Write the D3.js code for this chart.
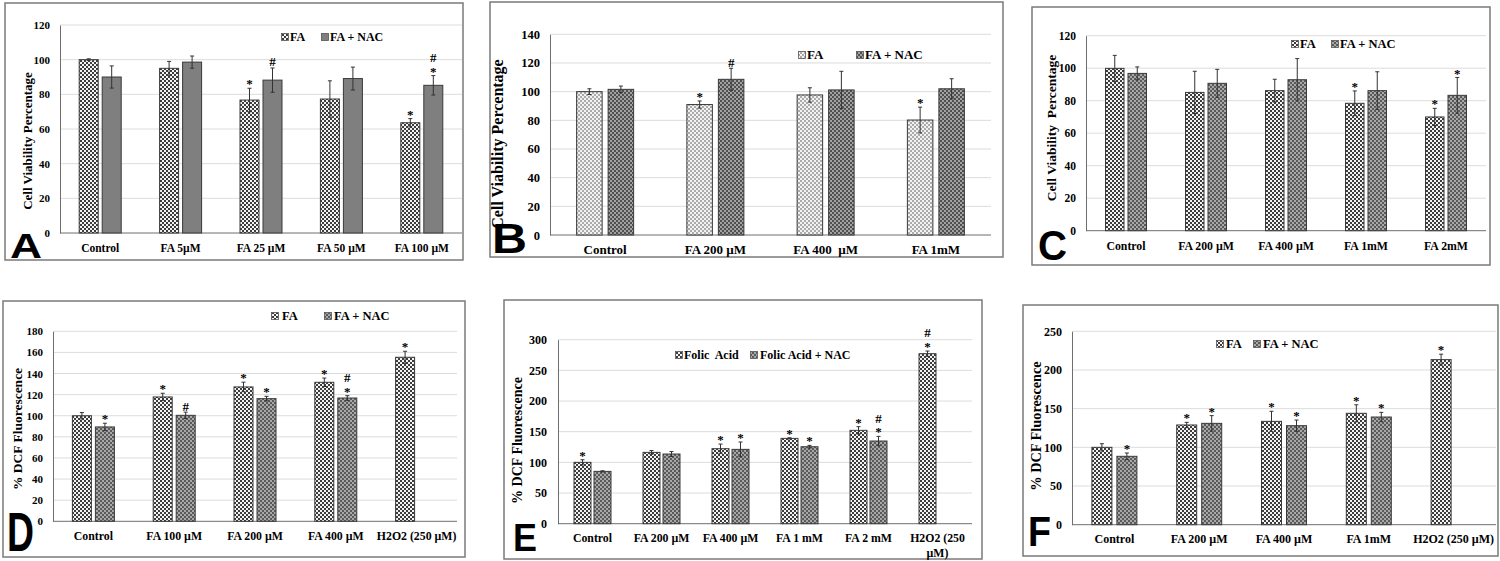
<!DOCTYPE html>
<html><head><meta charset="utf-8">
<script src="https://cdn.jsdelivr.net/npm/d3@7"></script>
<style>
body{margin:0;background:#fff}
svg text{font-family:"Liberation Serif","Times New Roman",serif;font-weight:bold;white-space:pre;fill:#000}
</style>
</head><body>
<svg id="c" width="1500" height="561"></svg>
<script>
// ---------- DATA ----------
// Panel A
const catsA = ["Control", "FA 5µM", "FA 25 µM", "FA 50 µM", "FA 100 µM"];
const faA = [100, 95, 76.7, 77.3, 63.6];
const faErrA = [0.5, 4, 6.8, 10.5, 2.4];
const nacA = [90, 98.6, 88.2, 89.1, 85.2];
const nacErrA = [6.4, 3.5, 7, 6.6, 5.6];
const faSigA = ["", "", "*", "", "*"];
const nacSigA = ["", "", "#", "", "*#"];
const ticksA = [0, 20, 40, 60, 80, 100, 120];
const legendA = ["FA", "FA + NAC"];

// Panel B
const catsB = ["Control", "FA 200 µM", "FA 400  µM", "FA 1mM"];
const faB = [100, 91, 97.7, 80.2];
const faErrB = [2, 2.5, 5, 9];
const nacB = [101.6, 108.6, 101.2, 102];
const nacErrB = [2.3, 7.7, 13, 7];
const faSigB = ["", "*", "", "*"];
const nacSigB = ["", "#", "", ""];
const ticksB = [0, 20, 40, 60, 80, 100, 120, 140];
const legendB = ["FA", "FA + NAC"];

// Panel C
const catsC = ["Control", "FA 200 µM", "FA 400 µM", "FA 1mM", "FA 2mM"];
const faC = [99.9, 85.1, 86.2, 78.4, 70];
const faErrC = [8, 13, 7, 7.6, 5.3];
const nacC = [96.8, 90.7, 92.9, 86.2, 83.3];
const nacErrC = [4, 8.6, 13, 11.6, 11];
const faSigC = ["", "", "", "*", "*"];
const nacSigC = ["", "", "", "", "*"];
const ticksC = [0, 20, 40, 60, 80, 100, 120];
const legendC = ["FA", "FA + NAC"];

// Panel D
const catsD = ["Control", "FA 100 µM", "FA 200 µM", "FA 400 µM", "H2O2 (250 µM)"];
const faD = [100, 117.8, 127.3, 131.7, 155.4];
const faErrD = [3, 3.5, 4.5, 4, 5.7];
const nacD = [89.4, 100.4, 116.2, 116.8, null];
const nacErrD = [3.5, 3, 2.2, 2.2, null];
const faSigD = ["", "*", "*", "*", "*"];
const nacSigD = ["*", "#", "*", "*#", ""];
const ticksD = [0, 20, 40, 60, 80, 100, 120, 140, 160, 180];
const legendD = ["FA", "FA + NAC"];

// Panel E
const catsE = ["Control", "FA 200 µM", "FA 400 µM", "FA 1 mM", "FA 2 mM", "H2O2 (250\nµM)"];
const faE = [100, 116.3, 122.3, 139.1, 152.2, 277.2];
const faErrE = [4.3, 3, 7.5, 1, 6, 4.3];
const nacE = [85.3, 113.6, 121.2, 125.5, 134.8, null];
const nacErrE = [1, 4, 12, 2.2, 7.6, null];
const faSigE = ["*", "", "*", "*", "*", "*#"];
const nacSigE = ["", "", "*", "*", "*#", ""];
const ticksE = [0, 50, 100, 150, 200, 250, 300];
const legendE = ["Folic  Acid", "Folic Acid + NAC"];

// Panel F
const catsF = ["Control", "FA 200 µM", "FA 400 µM", "FA 1mM", "H2O2 (250 µM)"];
const faF = [100, 128.9, 133.6, 144, 213.4];
const faErrF = [4.7, 3.4, 13, 11, 7];
const nacF = [88.4, 131, 128, 139.2, null];
const nacErrF = [4.3, 10, 7.3, 6, null];
const faSigF = ["", "*", "*", "*", "*"];
const nacSigF = ["*", "*", "*", "*", ""];
const ticksF = [0, 50, 100, 150, 200, 250];
const legendF = ["FA", "FA + NAC"];

const yTitleViab = "Cell Viability Percentage";
const yTitleViabC = "Cell Viability  Percentage";
const yTitleDCF = "% DCF Fluorescence";
const letters = ["A", "B", "C", "D", "E", "F"];

// ---------- DRAWING ----------
const svg = d3.select("#c");
const defs = svg.append("defs");
function checker(id, c1, c2, s) {
  const p = defs.append("pattern").attr("id", id).attr("patternUnits", "userSpaceOnUse")
    .attr("width", 2 * s).attr("height", 2 * s);
  p.append("rect").attr("width", 2 * s).attr("height", 2 * s).attr("fill", c1);
  p.append("rect").attr("width", s).attr("height", s).attr("fill", c2);
  p.append("rect").attr("x", s).attr("y", s).attr("width", s).attr("height", s).attr("fill", c2);
}
checker("pFA", "#f4f4f4", "#3c3c3c", 2);
checker("pFAlight", "#f2f2f2", "#ababab", 2);
checker("pNACdark", "#a2a2a2", "#505050", 2);
checker("pNAC", "#a8a8a8", "#5a5a5a", 2);

const SERIF = '"Liberation Serif","Times New Roman",serif';

function panel(p) {
  const g = svg.append("g");
  g.append("rect").attr("x", p.box[0]).attr("y", p.box[1])
    .attr("width", p.box[2] - p.box[0]).attr("height", p.box[3] - p.box[1])
    .attr("fill", "none").attr("stroke", "#7a7a7a").attr("stroke-width", 1.5);

  const y = d3.scaleLinear().domain([0, d3.max(p.ticks)]).range([p.zeroY, p.topY]);
  const x = d3.scaleBand().domain(p.cats).range([p.left, p.right]);

  // gridlines
  g.selectAll(".grid").data(p.ticks.filter(t => t > 0)).join("line")
    .attr("x1", p.left).attr("x2", p.right)
    .attr("y1", d => y(d)).attr("y2", d => y(d))
    .attr("stroke", "#dcdcdc").attr("stroke-width", 1);

  // y axis
  const ay = g.append("g").attr("transform", `translate(${p.left},0)`)
    .call(d3.axisLeft(y).tickValues(p.ticks).tickSize(0).tickPadding(p.tickPad).tickFormat(d3.format("d")));
  ay.attr("font-family", SERIF).attr("font-size", p.tickFs).attr("font-weight", "bold");
  ay.select(".domain").attr("stroke", "#6e6e6e");
  ay.selectAll("text").attr("fill", "#000");

  // x axis baseline
  g.append("line").attr("x1", p.left).attr("x2", p.right)
    .attr("y1", y(0)).attr("y2", y(0)).attr("stroke", "#6e6e6e").attr("stroke-width", 1);

  // category labels
  p.cats.forEach(c => {
    const t = g.append("text").attr("text-anchor", "middle").attr("font-size", p.catFs)
      .attr("x", x(c) + x.bandwidth() / 2).attr("y", p.catY);
    c.split("\n").forEach((line, i) => {
      t.append("tspan").attr("x", x(c) + x.bandwidth() / 2).attr("dy", i === 0 ? 0 : p.catFs * 1.25).text(line);
    });
  });

  const series = [
    { vals: p.fa, errs: p.faErr, sig: p.faSig, fill: p.fillFA, side: -1 },
    { vals: p.nac, errs: p.nacErr, sig: p.nacSig, fill: p.fillNAC, side: 1 }
  ];
  series.forEach(s => {
    p.cats.forEach((c, i) => {
      const v = s.vals[i];
      if (v == null) return;
      const cx = x(c) + x.bandwidth() / 2 + s.side * (p.gap / 2 + p.barW / 2);
      g.append("rect").attr("x", cx - p.barW / 2).attr("y", y(v))
        .attr("width", p.barW).attr("height", y(0) - y(v))
        .attr("fill", s.fill).attr("stroke", "#3a3a3a").attr("stroke-width", 1);
      const e = s.errs[i];
      const lo = y(v - e), hi = y(v + e);
      g.append("line").attr("x1", cx).attr("x2", cx).attr("y1", lo).attr("y2", hi)
        .attr("stroke", "#333").attr("stroke-width", 1);
      [lo, hi].forEach(yy => g.append("line").attr("x1", cx - 2).attr("x2", cx + 2)
        .attr("y1", yy).attr("y2", yy).attr("stroke", "#333").attr("stroke-width", 1));
      const sig = s.sig[i] || "";
      sig.split("").forEach((ch, k) => {
        const center = hi - 6 - k * 12;
        const fs = 13;
        const base = center + (ch === "*" ? 0.47 : 0.34) * fs;
        g.append("text").attr("text-anchor", "middle").attr("font-size", fs)
          .attr("x", cx).attr("y", base).text(ch);
      });
    });
  });

  // legend
  const L = p.legend;
  [[L.m1, L.t1, p.fillFA, p.legendText[0]], [L.m2, L.t2, p.fillNAC, p.legendText[1]]].forEach(([m, t, f, txt]) => {
    g.append("rect").attr("x", m - 3.5).attr("y", L.y - 3.5).attr("width", 7).attr("height", 7)
      .attr("fill", f).attr("stroke", "#555").attr("stroke-width", 0.8);
    g.append("text").attr("x", t).attr("y", L.y + 0.34 * L.fs).attr("font-size", L.fs).text(txt);
  });

  // y title
  g.append("text").attr("text-anchor", "middle").attr("font-size", p.titleFs)
    .attr("transform", `translate(${p.titleX},${p.titleY}) rotate(-90)`)
    .attr("dy", 0.35 * p.titleFs).text(p.title);

  // panel letter
  g.append("text").attr("x", p.letter.x).attr("y", p.letter.y)
    .attr("font-size", p.letter.fs).attr("textLength", p.letter.w).attr("lengthAdjust", "spacingAndGlyphs")
    .style("font-family", '"Liberation Sans",Arial,sans-serif').style("font-weight", "bold")
    .text(p.letter.t);
}

panel({ cats: catsA, fa: faA, faErr: faErrA, nac: nacA, nacErr: nacErrA, faSig: faSigA, nacSig: nacSigA,
  ticks: ticksA, legendText: legendA, title: yTitleViab, fillFA: "url(#pFA)", fillNAC: "#7f7f7f",
  box: [5, 3, 463, 260], left: 60, right: 462, zeroY: 233, topY: 25, barW: 19, gap: 4,
  tickFs: 11, tickPad: 10, catFs: 11.5, catY: 252, titleFs: 13, titleX: 27, titleY: 141,
  legend: { y: 37, m1: 285, t1: 290, m2: 325, t2: 330, fs: 12 },
  letter: { t: letters[0], x: 10, y: 258, fs: 35, w: 32 } });

panel({ cats: catsB, fa: faB, faErr: faErrB, nac: nacB, nacErr: nacErrB, faSig: faSigB, nacSig: nacSigB,
  ticks: ticksB, legendText: legendB, title: yTitleViab, fillFA: "url(#pFAlight)", fillNAC: "url(#pNACdark)",
  box: [490, 2, 1003, 257], left: 550, right: 991, zeroY: 235, topY: 34.3, barW: 25.5, gap: 6,
  tickFs: 12.5, tickPad: 10, catFs: 13, catY: 254, titleFs: 16, titleX: 497, titleY: 144,
  legend: { y: 55, m1: 802, t1: 807, m2: 860, t2: 865, fs: 13 },
  letter: { t: letters[1], x: 492, y: 253, fs: 42, w: 35 } });

panel({ cats: catsC, fa: faC, faErr: faErrC, nac: nacC, nacErr: nacErrC, faSig: faSigC, nacSig: nacSigC,
  ticks: ticksC, legendText: legendC, title: yTitleViabC, fillFA: "url(#pFA)", fillNAC: "url(#pNAC)",
  box: [1032, 7, 1490, 265], left: 1086, right: 1486, zeroY: 230.7, topY: 35.7, barW: 18.5, gap: 4,
  tickFs: 11.5, tickPad: 10, catFs: 11.8, catY: 250, titleFs: 13.5, titleX: 1051, titleY: 128,
  legend: { y: 44, m1: 1295, t1: 1300, m2: 1335, t2: 1340, fs: 12.5 },
  letter: { t: letters[2], x: 1038, y: 260, fs: 42, w: 29 } });

panel({ cats: catsD, fa: faD, faErr: faErrD, nac: nacD, nacErr: nacErrD, faSig: faSigD, nacSig: nacSigD,
  ticks: ticksD, legendText: legendD, title: yTitleDCF, fillFA: "url(#pFA)", fillNAC: "url(#pNAC)",
  box: [3, 301, 465, 557], left: 53, right: 457, zeroY: 521.3, topY: 331.3, barW: 19, gap: 4,
  tickFs: 11, tickPad: 10, catFs: 11.8, catY: 540, titleFs: 13.5, titleX: 17, titleY: 429,
  legend: { y: 316, m1: 275, t1: 282, m2: 328, t2: 334, fs: 12.5 },
  letter: { t: letters[3], x: 7, y: 551, fs: 56, w: 27 } });

panel({ cats: catsE, fa: faE, faErr: faErrE, nac: nacE, nacErr: nacErrE, faSig: faSigE, nacSig: nacSigE,
  ticks: ticksE, legendText: legendE, title: yTitleDCF, fillFA: "url(#pFA)", fillNAC: "url(#pNAC)",
  box: [504, 300, 982, 559], left: 558, right: 972, zeroY: 523.7, topY: 339.7, barW: 17, gap: 3,
  tickFs: 12, tickPad: 11, catFs: 11.8, catY: 542, titleFs: 14, titleX: 517, titleY: 440.5,
  legend: { y: 355, m1: 679, t1: 684, m2: 754, t2: 760, fs: 12 },
  letter: { t: letters[4], x: 513, y: 551, fs: 38, w: 24 } });

panel({ cats: catsF, fa: faF, faErr: faErrF, nac: nacF, nacErr: nacErrF, faSig: faSigF, nacSig: nacSigF,
  ticks: ticksF, legendText: legendF, title: yTitleDCF, fillFA: "url(#pFA)", fillNAC: "url(#pNAC)",
  box: [1023, 305, 1498, 556], left: 1072, right: 1496, zeroY: 524.7, topY: 331.3, barW: 20, gap: 5,
  tickFs: 12, tickPad: 10, catFs: 12, catY: 543, titleFs: 14.3, titleX: 1036, titleY: 426,
  legend: { y: 344, m1: 1220, t1: 1226, m2: 1257, t2: 1263, fs: 12.5 },
  letter: { t: letters[5], x: 1028, y: 546, fs: 43, w: 23 } });
</script>
</body></html>
